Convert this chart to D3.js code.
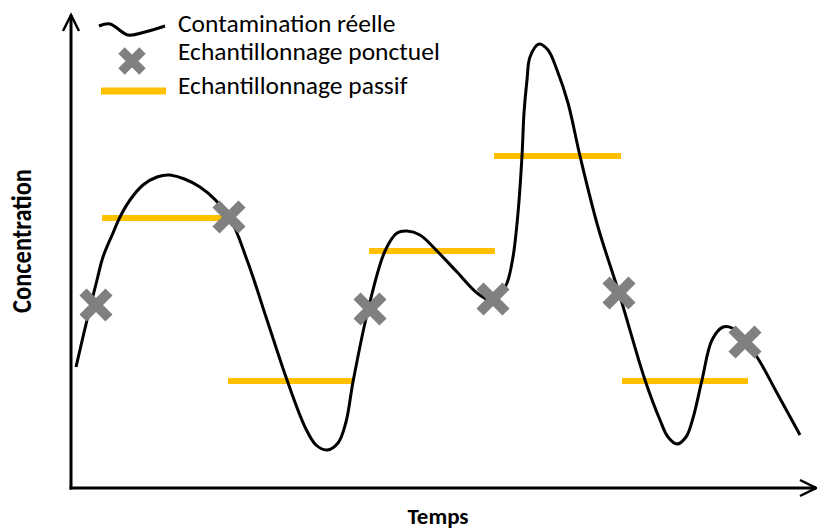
<!DOCTYPE html>
<html>
<head>
<meta charset="UTF-8">
<title>Echantillonnage</title>
<script src="https://d3js.org/d3.v7.min.js"></script>
<style>
  body { margin: 0; background: #fff; }
  text { font-family: Carlito, Calibri, Lato, sans-serif; fill: #000; }
</style>
</head>
<body>
<div id="chart"></div>
<script>
    // real contamination: [time, concentration]
    var curveT = [0.25, 0.8, 1.3, 1.6, 2.1, 2.45, 2.95, 3.6, 4.3, 4.95, 6.45, 7.9, 8.8, 9.8, 10.8, 11.7, 12.25, 12.8, 13.35, 13.75, 14.1, 14.85, 15.7, 16.3, 16.8, 17.45, 18.3, 19.3, 20.3, 20.95, 21.4, 21.8, 22.1, 22.35, 22.55, 22.65, 22.8, 22.95, 23.4, 23.85, 24.3, 24.85, 25.45, 26.35, 27.4, 28.7, 29.45, 29.85, 30.3, 30.75, 31.1, 31.55, 32.05, 32.6, 33.05, 33.7, 34.3, 35.3, 36.45];
    var curveC = [6.05, 8.4, 10.4, 11.55, 12.75, 13.55, 14.4, 15.15, 15.55, 15.65, 15.05, 13.55, 11.4, 8.4, 5.4, 3.05, 2.15, 1.9, 2.25, 3.3, 5.3, 8.9, 11.85, 12.75, 12.85, 12.65, 11.85, 10.8, 9.75, 9.4, 9.6, 10.25, 11.55, 13.75, 16.6, 18.75, 20.4, 21.55, 22.2, 21.9, 20.9, 19.25, 16.6, 13.05, 9.75, 5.4, 3.4, 2.55, 2.2, 2.55, 3.5, 5.4, 7.4, 8.05, 8.0, 7.3, 6.55, 4.75, 2.65];

    // grab samples (echantillonnage ponctuel)
    var spotT = [1.25, 7.9, 14.95, 21.1, 27.4, 33.7];
    var spotC = [9.15, 13.55, 8.95, 9.45, 9.75, 7.3];

    // passive samplers: time-weighted averages
    var passStart = [1.55, 7.85, 14.9, 21.15, 27.55];
    var passEnd = [7.85, 14.15, 21.2, 27.5, 33.85];
    var passC = [13.5, 5.35, 11.85, 16.6, 5.35];

    var legendLabels = ["Contamination réelle", "Echantillonnage ponctuel", "Echantillonnage passif"];
    var xLabel = "Temps", yLabel = "Concentration";

    var width = 817, height = 529;
    var x0 = 71, y0 = 488;

    var x = d3.scaleLinear().domain([0, 37.25]).range([x0, 816]);
    var y = d3.scaleLinear().domain([0, 23.65]).range([y0, 15]);

    var svg = d3.select("#chart").append("svg")
        .attr("width", width)
        .attr("height", height);

    // axes with open arrow heads
    var axes = svg.append("g")
        .attr("fill", "none")
        .attr("stroke", "#000")
        .attr("stroke-width", 3);
    axes.append("path").attr("d", "M" + x0 + "," + (y0 + 1.5) + "V" + y.range()[1]);
    axes.append("path").attr("d", "M" + (x0 - 1.5) + "," + y0 + "H" + x.range()[1]);
    axes.append("path")
        .attr("stroke-width", 2.5)
        .attr("d", "M" + (x0 - 8) + "," + (y.range()[1] + 16) + "L" + x0 + "," + y.range()[1] + "L" + (x0 + 8) + "," + (y.range()[1] + 16));
    axes.append("path")
        .attr("stroke-width", 2.5)
        .attr("d", "M" + (x.range()[1] - 16) + "," + (y0 - 8) + "L" + x.range()[1] + "," + y0 + "L" + (x.range()[1] - 16) + "," + (y0 + 8));

    // passive sampler bars
    svg.append("g").selectAll("line")
        .data(passC)
        .enter().append("line")
        .attr("x1", function(d, i) { return x(passStart[i]); })
        .attr("x2", function(d, i) { return x(passEnd[i]); })
        .attr("y1", function(d) { return y(d); })
        .attr("y2", function(d) { return y(d); })
        .attr("stroke", "#FFC000")
        .attr("stroke-width", 6);

    // real contamination curve
    var line = d3.line()
        .x(function(d, i) { return x(curveT[i]); })
        .y(function(d) { return y(d); })
        .curve(d3.curveCatmullRom.alpha(0.5));

    svg.append("path")
        .datum(curveC)
        .attr("d", line)
        .attr("fill", "none")
        .attr("stroke", "#000")
        .attr("stroke-width", 3);

    // grab sample crosses
    function cross(sel, r, w) {
        sel.append("path")
            .attr("d", "M" + (-r) + "," + (-r) + "L" + r + "," + r + "M" + (-r) + "," + r + "L" + r + "," + (-r))
            .attr("stroke", "#808080")
            .attr("stroke-width", w)
            .attr("fill", "none");
    }
    svg.append("g").selectAll("g")
        .data(spotC)
        .enter().append("g")
        .attr("transform", function(d, i) { return "translate(" + x(spotT[i]) + "," + y(d) + ")"; })
        .call(cross, 13, 10);

    // legend
    var legendY = [32, 60, 94];
    var lg = svg.append("g");
    lg.append("path")
        .attr("d", d3.line().curve(d3.curveCatmullRom)([[99, 26], [110, 24], [128, 35], [145, 32], [165, 26]]))
        .attr("fill", "none")
        .attr("stroke", "#000")
        .attr("stroke-width", 3);
    lg.append("g").attr("transform", "translate(132,61)").call(cross, 10.5, 9);
    lg.append("line")
        .attr("x1", 101).attr("x2", 166)
        .attr("y1", 91).attr("y2", 91)
        .attr("stroke", "#FFC000")
        .attr("stroke-width", 7);
    lg.selectAll("text")
        .data(legendLabels)
        .enter().append("text")
        .attr("x", 178)
        .attr("y", function(d, i) { return legendY[i]; })
        .attr("font-size", 25.5)
        .text(function(d) { return d; });

    // axis titles
    svg.append("text")
        .attr("x", 438)
        .attr("y", 524)
        .attr("text-anchor", "middle")
        .attr("font-weight", "bold")
        .attr("font-size", 23)
        .text(xLabel);
    svg.append("text")
        .attr("transform", "translate(31,241) rotate(-90) scale(1,1.12)")
        .attr("text-anchor", "middle")
        .attr("font-weight", "bold")
        .attr("font-size", 24.5)
        .text(yLabel);
</script>
</body>
</html>
